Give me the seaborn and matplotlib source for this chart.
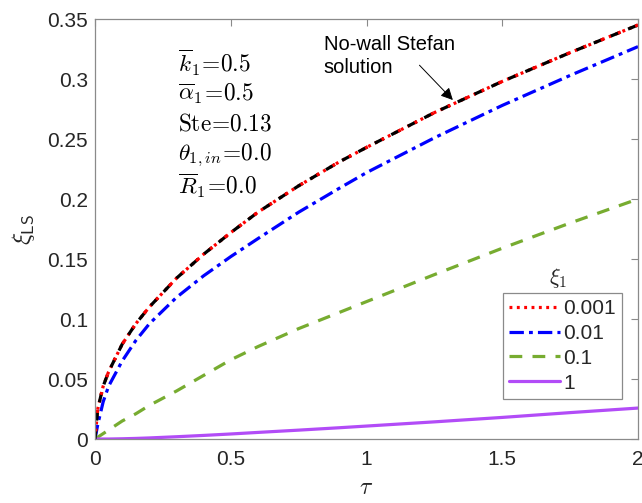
import numpy as np
import pandas as pd
import matplotlib
matplotlib.use("Agg")
import matplotlib.pyplot as plt
import seaborn as sns
from matplotlib.lines import Line2D

# Dimensionless time
tau = [0.0, 0.01, 0.03, 0.05, 0.1, 0.15, 0.2, 0.3, 0.4, 0.5, 0.6, 0.75, 0.9,
       1.0, 1.25, 1.5, 1.75, 2.0]

# Liquid-solid interface position for each wall thickness xi_1
xi_0001 = [0.0, 0.025, 0.044, 0.056, 0.079, 0.096, 0.110, 0.134, 0.154, 0.172,
           0.189, 0.211, 0.231, 0.243, 0.272, 0.298, 0.322, 0.345]
xi_001 = [0.0, 0.012, 0.031, 0.044, 0.065, 0.082, 0.096, 0.118, 0.136, 0.152,
          0.167, 0.189, 0.209, 0.222, 0.251, 0.278, 0.303, 0.327]
xi_01 = [0.0, 0.0015, 0.0045, 0.0075, 0.015, 0.021, 0.028, 0.040, 0.053, 0.066,
         0.077, 0.092, 0.1055, 0.1145, 0.137, 0.159, 0.180, 0.200]
xi_1 = [0.0, 0.0, 0.0, 0.0, 0.0002, 0.0005, 0.0009, 0.0019, 0.003, 0.0042,
        0.0055, 0.0074, 0.0094, 0.0108, 0.0143, 0.018, 0.022, 0.0258]
# Classical Stefan solution without a wall
xi_nowall = [0.0, 0.025, 0.044, 0.056, 0.079, 0.096, 0.110, 0.134, 0.154, 0.172,
             0.189, 0.211, 0.231, 0.243, 0.272, 0.298, 0.322, 0.345]

legend_labels = ["0.001", "0.01", "0.1", "1"]

sns.set_theme(style="white")
plt.rcParams["font.family"] = ["Liberation Sans", "DejaVu Sans"]
plt.rcParams["mathtext.fontset"] = "cm"

fig = plt.figure(figsize=(6.42, 5.03), dpi=100)
ax = fig.add_axes([0.148, 0.1272, 0.8458, 0.835])

series = [
    (xi_0001, "#ff0000", (0, (0.9, 1.4)), 2.3),
    (xi_001, "#0000ff", (0, (4.5, 1.6, 1.2, 1.6)), 2.3),
    (xi_01, "#77ac30", (0, (4.0, 3.2)), 2.3),
    (xi_1, "#b24cf7", "-", 2.3),
]

handles = []
for (vals, color, ls, lw), lab in zip(series, legend_labels):
    df = pd.DataFrame({"tau": tau, "xi": vals})
    sns.lineplot(data=df, x="tau", y="xi", ax=ax, color=color, linewidth=lw,
                 linestyle=ls, legend=False, estimator=None, sort=False)
    handles.append(Line2D([0], [0], color=color, lw=lw, linestyle=ls, label=lab))

df_nw = pd.DataFrame({"tau": tau, "xi": xi_nowall})
sns.lineplot(data=df_nw, x="tau", y="xi", ax=ax, color="black", linewidth=2.3,
             linestyle=(0, (3.2, 2.6)), legend=False, estimator=None, sort=False)
# Red dots re-drawn on top so they show between black dashes
df_r = pd.DataFrame({"tau": tau, "xi": xi_0001})
sns.lineplot(data=df_r, x="tau", y="xi", ax=ax, color="#ff0000", linewidth=2.3,
             linestyle=(3.4, (0.9, 4.9)), legend=False, estimator=None, sort=False)

ax.set_xlim(0, 2)
ax.set_ylim(0, 0.35)
ax.set_xticks([0, 0.5, 1, 1.5, 2])
ax.set_xticklabels(["0", "0.5", "1", "1.5", "2"])
ax.set_yticks([0, 0.05, 0.1, 0.15, 0.2, 0.25, 0.3, 0.35])
ax.set_yticklabels(["0", "0.05", "0.1", "0.15", "0.2", "0.25", "0.3", "0.35"])

for sp in ax.spines.values():
    sp.set_visible(True)
    sp.set_color("#8a8a8a")
    sp.set_linewidth(0.9)
ax.tick_params(axis="both", which="major", direction="in", length=5, width=0.8,
               color="#8a8a8a", labelsize=15, labelcolor="#262626",
               top=True, right=True)
ax.tick_params(axis="x", pad=8)
ax.tick_params(axis="y", pad=5)

ax.set_xlabel(r"$\tau$", fontsize=17, color="#262626", labelpad=6)
ax.set_ylabel(r"$\xi_{\mathsf{LS}}$", fontsize=18, color="#262626", labelpad=7)

# Parameter block
params = [r"$\overline{k}_1\!=\!0.5$", r"$\overline{\alpha}_1\!=\!0.5$",
          r"$\mathrm{Ste}\!=\!0.13$", r"$\theta_{1,in}\!=\!0.0$",
          r"$\overline{R}_1\!=\!0.0$"]
for i, p in enumerate(params):
    ax.text(0.305, 0.3135 - i * 0.0256, p, fontsize=16.8, color="black",
            ha="left", va="center")

ax.text(0.843, 0.319, "No-wall Stefan\nsolution", fontsize=14.5, color="black",
        ha="left", va="center", linespacing=1.3)
ax.annotate("", xy=(1.318, 0.2825), xytext=(1.195, 0.3115),
            arrowprops=dict(arrowstyle="-|>", color="black", lw=0.7,
                            mutation_scale=18, shrinkA=0, shrinkB=0))

leg = ax.legend(handles=handles, loc="upper left", bbox_to_anchor=(0.751, 0.348),
                fontsize=15, frameon=True, handlelength=2.45, labelspacing=0.28,
                handletextpad=0.15, borderpad=0.3, borderaxespad=0,
                fancybox=False, edgecolor="#8a8a8a", framealpha=1)
leg.get_frame().set_linewidth(0.9)
for t in leg.get_texts():
    t.set_color("#262626")
ax.text(1.705, 0.134, r"$\xi_1$", fontsize=16, ha="center", va="center",
        color="#262626")

fig.savefig("out.png", dpi=100)
